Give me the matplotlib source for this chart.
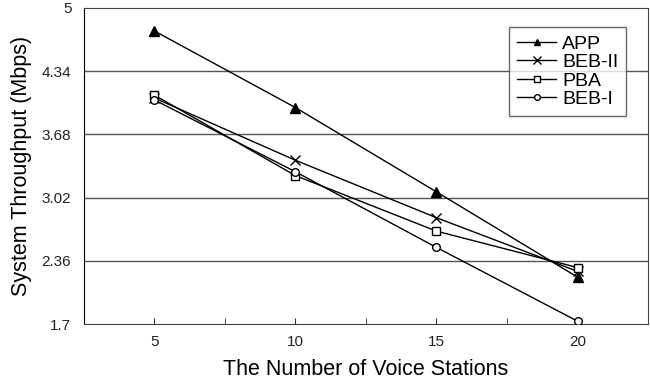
import numpy as np
import matplotlib
matplotlib.use("Agg")
import matplotlib.pyplot as plt
from matplotlib.ticker import MultipleLocator

plt.rcParams['font.family'] = ['Liberation Sans', 'DejaVu Sans']

stations = [5, 10, 15, 20]
app = [4.76, 3.96, 3.08, 2.19]
beb2 = [4.06, 3.41, 2.81, 2.25]
pba = [4.09, 3.25, 2.67, 2.29]
beb1 = [4.04, 3.29, 2.50, 1.73]
yticks = [1.7, 2.36, 3.02, 3.68, 4.34, 5]

fig = plt.figure(figsize=(6.5, 3.79), dpi=100)
ax = fig.add_axes([0.129, 0.145, 0.868, 0.834])

for yv in yticks[1:-1]:
    ax.axhline(yv, color='#555555', lw=1.0, zorder=1)

lw = 1.0
ax.plot(stations, app, color='black', lw=lw, marker='^', ms=6.5, mfc='black', label='APP', zorder=3)
ax.plot(stations, beb2, color='black', lw=lw, marker='x', ms=7.5, mew=1.0, label='BEB-II', zorder=3)
ax.plot(stations, pba, color='black', lw=lw, marker='s', ms=5.5, mfc='white', mew=1.0, label='PBA', zorder=3)
ax.plot(stations, beb1, color='black', lw=lw, marker='o', ms=5.5, mfc='white', mew=1.0, label='BEB-I', zorder=3)

ax.set_xlim(2.5, 22.5)
ax.set_ylim(1.7, 5)
ax.set_xticks(stations)
ax.xaxis.set_minor_locator(MultipleLocator(2.5))
ax.set_yticks(yticks)
ax.set_yticklabels([str(v) for v in yticks])
ax.tick_params(axis='x', which='both', direction='in', length=4, labelsize=11, pad=8,
               color='#333333', labelcolor='#222222')
ax.tick_params(axis='y', length=0, labelsize=11, pad=9, labelcolor='#222222')
for s in ax.spines.values():
    s.set_color('#444444')
ax.spines['left'].set_color('black')

ax.set_xlabel('The Number of Voice Stations', fontsize=15.5, labelpad=7)
ax.set_ylabel('System Throughput (Mbps)', fontsize=15.5, labelpad=7)

leg = ax.legend(loc='upper right', bbox_to_anchor=(0.978, 0.97), fontsize=14, frameon=True,
                fancybox=False, edgecolor='#444444', handlelength=2.0, handletextpad=0.3,
                labelspacing=0.05, borderpad=0.4, markerscale=0.75)
leg.get_frame().set_linewidth(1.0)

fig.savefig('out.png', dpi=100)
